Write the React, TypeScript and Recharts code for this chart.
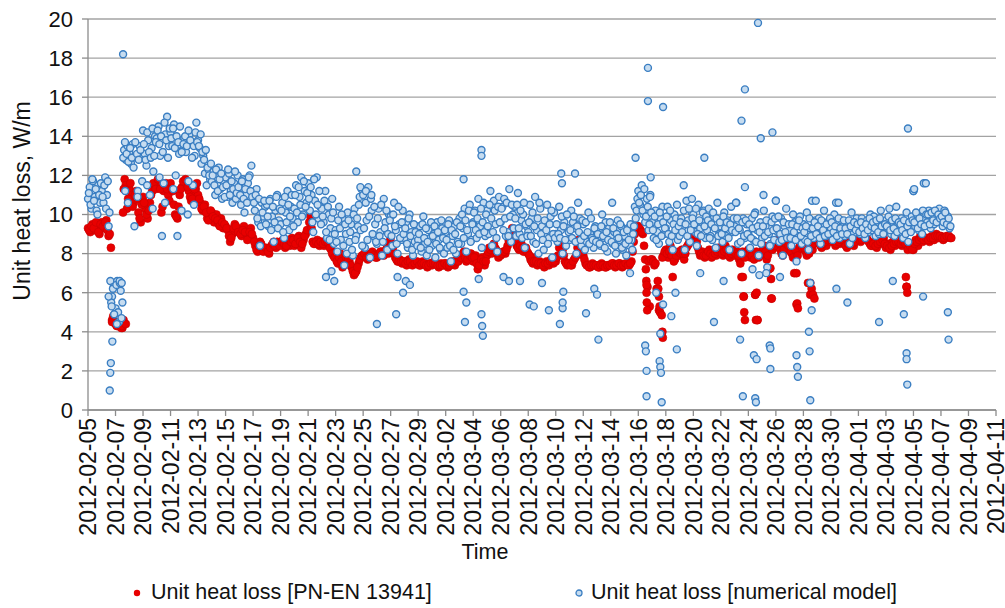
import React from "react";
import { ScatterChart, Scatter, XAxis, YAxis, CartesianGrid } from "recharts";

// x values are days counted from 2012-02-05 00:00
const dayTicks = [
  0, 2, 4, 6, 8, 10, 12, 14, 16, 18, 20, 22, 24, 26, 28, 30, 32, 34, 36, 38,
  40, 42, 44, 46, 48, 50, 52, 54, 56, 58, 60, 62, 64, 66,
];
const dayLabels = [
  "2012-02-05", "2012-02-07", "2012-02-09", "2012-02-11", "2012-02-13",
  "2012-02-15", "2012-02-17", "2012-02-19", "2012-02-21", "2012-02-23",
  "2012-02-25", "2012-02-27", "2012-02-29", "2012-03-02", "2012-03-04",
  "2012-03-06", "2012-03-08", "2012-03-10", "2012-03-12", "2012-03-14",
  "2012-03-16", "2012-03-18", "2012-03-20", "2012-03-22", "2012-03-24",
  "2012-03-26", "2012-03-28", "2012-03-30", "2012-04-01", "2012-04-03",
  "2012-04-05", "2012-04-07", "2012-04-09", "2012-04-11",
];
const valueTicks = [0, 2, 4, 6, 8, 10, 12, 14, 16, 18, 20];

// numerical model, readings every 3 hours starting 00:00 (8 per day)
const modelValues = [
  10.8, 11.4, 10.3, 11.7, 10.9, 10.2, 11.5, 10.6, // 02-05
  11.2, 10.6, 11.9, 11.0, 9.4, 6.6, 5.8, 6.3, // 02-06
  5.2, 6.6, 4.5, 6.1, 5.5, 13.3, 12.8, 13.5, // 02-07
  13.2, 12.6, 13.6, 9.4, 12.9, 11.2, 13.5, 13.0, // 02-08
  14.3, 13.1, 12.5, 13.8, 11.0, 13.4, 12.2, 14.0, // 02-09
  13.9, 14.5, 13.0, 8.9, 11.6, 14.1, 15.0, 13.5, // 02-10
  14.2, 13.5, 14.6, 12.0, 8.9, 13.1, 13.8, 13.3, // 02-11
  13.9, 13.2, 10.0, 14.1, 13.6, 11.5, 13.0, 14.7, // 02-12
  13.8, 13.4, 12.6, 13.0, 12.1, 11.5, 12.3, 11.8, // 02-13
  11.7, 12.2, 11.0, 11.9, 12.4, 11.3, 10.8, 11.6, // 02-14
  11.9, 10.9, 12.1, 11.2, 10.6, 11.6, 10.8, 12.0, // 02-15
  11.4, 10.5, 11.8, 10.1, 11.0, 11.6, 12.0, 12.5, // 02-16
  10.9, 10.2, 11.3, 9.6, 8.4, 10.6, 9.9, 10.4, // 02-17
  10.5, 9.4, 10.8, 9.9, 8.6, 10.2, 11.0, 9.7, // 02-18
  9.5, 10.6, 8.8, 10.1, 11.2, 9.2, 10.4, 9.8, // 02-19
  10.3, 11.5, 9.6, 10.9, 11.9, 10.0, 11.2, 10.6, // 02-20
  11.6, 10.2, 11.0, 9.1, 10.7, 11.9, 9.8, 10.4, // 02-21
  10.3, 9.6, 11.2, 8.8, 10.0, 9.3, 10.8, 8.5, // 02-22
  9.2, 8.1, 10.4, 8.7, 9.8, 7.4, 9.0, 10.1, // 02-23
  8.6, 9.5, 7.9, 10.3, 8.9, 9.4, 10.9, 11.3, // 02-24
  11.0, 8.3, 9.7, 11.4, 7.8, 10.2, 8.9, 9.5, // 02-25
  8.5, 10.3, 9.1, 7.9, 10.8, 9.6, 8.2, 10.0, // 02-26
  9.9, 8.4, 10.6, 9.2, 8.0, 9.5, 8.7, 10.2, // 02-27
  8.8, 9.6, 8.3, 10.0, 9.1, 7.9, 8.6, 9.4, // 02-28
  8.7, 9.4, 8.1, 9.9, 8.5, 7.9, 9.2, 8.8, // 02-29
  8.4, 9.0, 7.8, 9.6, 8.7, 8.2, 9.3, 8.0, // 03-01
  9.1, 8.3, 9.7, 7.6, 8.9, 9.4, 8.0, 8.6, // 03-02
  9.8, 8.5, 9.3, 10.3, 8.1, 9.0, 10.5, 8.7, // 03-03
  9.6, 10.2, 8.8, 10.8, 9.4, 8.3, 10.6, 8.9, // 03-04
  10.2, 9.0, 11.2, 8.4, 10.7, 9.5, 8.1, 10.9, // 03-05
  9.6, 10.4, 10.8, 8.9, 9.1, 11.3, 8.6, 10.0, // 03-06
  10.4, 8.9, 11.1, 9.0, 9.7, 10.0, 8.3, 9.4, // 03-07
  9.1, 10.5, 9.8, 8.6, 10.9, 9.2, 8.0, 10.3, // 03-08
  9.4, 8.2, 9.0, 10.5, 8.8, 9.9, 7.8, 10.1, // 03-09
  9.0, 8.6, 10.4, 9.2, 8.0, 9.6, 8.4, 9.3, // 03-10
  8.7, 10.2, 9.6, 9.3, 8.0, 10.6, 9.8, 8.4, // 03-11
  9.5, 8.2, 8.6, 10.1, 9.0, 8.8, 8.3, 9.4, // 03-12
  8.6, 9.2, 8.4, 10.0, 8.8, 9.6, 8.1, 9.3, // 03-13
  8.9, 8.5, 9.1, 8.0, 9.7, 8.7, 9.4, 8.2, // 03-14
  8.9, 7.9, 9.3, 8.4, 8.7, 9.0, 10.4, 10.2, // 03-15
  11.2, 10.5, 11.5, 10.0, 9.6, 10.8, 9.2, 11.0, // 03-16
  9.6, 8.8, 10.2, 9.1, 8.5, 9.8, 10.4, 9.0, // 03-17
  9.3, 10.4, 8.6, 9.7, 8.2, 10.0, 9.8, 8.7, // 03-18
  8.9, 9.8, 9.4, 8.2, 10.7, 9.7, 8.6, 10.1, // 03-19
  10.0, 9.1, 8.4, 10.5, 9.3, 9.6, 10.2, 8.8, // 03-20
  9.2, 10.3, 8.9, 8.7, 9.9, 8.3, 10.6, 9.0, // 03-21
  9.4, 8.6, 10.1, 8.9, 9.7, 8.2, 10.4, 9.1, // 03-22
  9.4, 10.6, 8.5, 9.2, 8.0, 9.8, 8.8, 9.5, // 03-23
  9.0, 8.3, 9.8, 8.7, 10.1, 9.2, 7.9, 9.6, // 03-24
  8.8, 10.2, 9.4, 7.3, 9.0, 8.5, 9.9, 8.7, // 03-25
  10.7, 9.1, 8.6, 9.8, 7.9, 9.4, 10.3, 8.9, // 03-26
  9.2, 8.4, 10.0, 9.6, 7.6, 8.9, 9.9, 8.5, // 03-27
  9.5, 8.7, 10.1, 8.2, 9.3, 10.7, 8.8, 9.7, // 03-28
  9.0, 9.8, 8.5, 9.4, 10.2, 8.9, 9.6, 9.1, // 03-29
  9.3, 8.7, 10.0, 10.6, 9.2, 8.8, 9.7, 9.4, // 03-30
  8.9, 9.6, 9.2, 8.5, 10.1, 9.0, 9.4, 9.8, // 03-31
  9.5, 9.0, 9.8, 9.3, 8.8, 9.7, 9.1, 10.0, // 04-01
  9.2, 9.9, 8.9, 9.5, 9.0, 10.2, 9.4, 9.1, // 04-02
  9.7, 9.3, 10.3, 9.0, 9.6, 8.9, 10.4, 9.5, // 04-03
  9.1, 9.8, 8.8, 9.5, 10.1, 8.6, 9.3, 9.9, // 04-04
  11.2, 9.4, 10.0, 9.2, 9.7, 9.0, 11.6, 9.8, // 04-05
  9.6, 10.2, 9.3, 9.9, 9.5, 10.1, 9.7, 10.3, // 04-06
  9.8, 9.4, 10.2, 9.6, 9.9, 9.3, // 04-07
];

// numerical model, readings every 3 hours starting 01:30 (8 per day)
const modelValuesHalf = [
  11.1, 10.5, 11.8, 10.7, 11.3, 10.0, 11.0, 11.6, // 02-05
  10.9, 11.5, 10.3, 11.7, 10.1, 5.5, 6.2, 4.9, // 02-06
  6.4, 5.0, 6.5, 4.7, 12.9, 13.7, 13.1, 12.7, // 02-07
  13.4, 12.9, 12.4, 13.7, 13.1, 12.8, 13.3, 11.7, // 02-08
  13.6, 12.8, 14.2, 13.2, 12.9, 14.4, 13.0, 13.7, // 02-09
  14.3, 13.6, 14.0, 13.2, 14.7, 13.8, 12.9, 14.4, // 02-10
  13.9, 14.4, 13.4, 14.0, 13.7, 14.5, 13.2, 13.6, // 02-11
  14.0, 13.5, 14.3, 13.8, 12.9, 13.5, 14.2, 13.7, // 02-12
  13.5, 14.1, 13.2, 12.8, 13.3, 12.4, 12.0, 12.6, // 02-13
  12.0, 11.5, 12.3, 11.2, 11.8, 12.1, 11.4, 10.9, // 02-14
  11.5, 12.3, 11.0, 11.7, 11.3, 12.2, 11.1, 11.4, // 02-15
  11.0, 11.7, 10.8, 11.3, 10.6, 11.9, 11.2, 10.9, // 02-16
  10.6, 11.0, 9.8, 10.8, 9.4, 10.1, 10.7, 9.5, // 02-17
  9.9, 10.7, 9.2, 10.4, 9.6, 10.9, 9.3, 10.3, // 02-18
  10.2, 9.1, 10.9, 9.6, 10.5, 9.9, 11.0, 9.4, // 02-19
  11.0, 10.1, 11.4, 10.5, 9.9, 11.7, 10.4, 11.1, // 02-20
  10.8, 11.4, 9.6, 11.8, 10.0, 10.5, 11.2, 9.5, // 02-21
  9.9, 10.7, 9.1, 10.4, 8.7, 9.8, 10.1, 9.0, // 02-22
  8.6, 9.7, 9.3, 10.0, 8.4, 9.5, 8.0, 9.7, // 02-23
  9.1, 8.2, 10.0, 8.7, 9.8, 10.5, 9.2, 8.4, // 02-24
  9.3, 10.6, 8.7, 9.9, 10.8, 9.0, 10.4, 8.6, // 02-25
  9.8, 8.9, 10.5, 8.6, 9.3, 10.2, 9.0, 9.7, // 02-26
  8.9, 10.0, 9.4, 8.5, 10.4, 8.8, 9.6, 9.0, // 02-27
  9.3, 8.5, 9.8, 8.9, 8.2, 9.5, 9.1, 8.4, // 02-28
  9.0, 8.3, 9.5, 8.8, 9.3, 8.6, 8.2, 9.6, // 02-29
  8.9, 9.4, 8.5, 9.1, 8.3, 9.7, 8.8, 9.2, // 03-01
  8.7, 9.5, 8.4, 9.2, 8.2, 9.0, 9.6, 8.5, // 03-02
  9.4, 10.0, 8.8, 9.7, 9.2, 10.2, 8.6, 9.5, // 03-03
  10.1, 9.2, 9.8, 9.0, 10.3, 9.6, 9.1, 10.0, // 03-04
  9.4, 10.5, 9.8, 9.1, 10.2, 8.8, 10.4, 9.6, // 03-05
  10.3, 9.2, 9.8, 10.6, 8.9, 9.9, 10.5, 9.3, // 03-06
  9.8, 10.5, 9.3, 10.2, 8.8, 10.6, 9.5, 8.9, // 03-07
  9.6, 8.9, 10.1, 9.4, 8.5, 9.8, 10.6, 9.0, // 03-08
  8.7, 9.7, 9.2, 8.5, 9.5, 10.2, 9.0, 8.8, // 03-09
  9.5, 9.0, 8.8, 9.9, 9.4, 8.7, 10.0, 9.1, // 03-10
  9.2, 8.8, 9.9, 8.6, 9.4, 9.1, 8.7, 9.7, // 03-11
  8.9, 9.6, 9.1, 8.5, 9.8, 8.7, 9.3, 8.6, // 03-12
  9.0, 8.5, 9.4, 8.9, 8.3, 9.1, 8.7, 9.6, // 03-13
  8.6, 9.3, 8.4, 9.0, 8.8, 9.5, 8.3, 9.1, // 03-14
  8.5, 9.2, 8.7, 9.5, 8.2, 9.4, 9.8, 10.8, // 03-15
  10.6, 11.0, 10.2, 11.3, 9.9, 10.4, 9.5, 10.1, // 03-16
  9.2, 9.9, 8.7, 9.5, 10.1, 8.9, 9.6, 9.3, // 03-17
  9.9, 9.0, 10.2, 8.9, 9.5, 9.2, 10.5, 9.4, // 03-18
  9.6, 9.1, 10.2, 9.5, 8.9, 10.3, 9.2, 9.8, // 03-19
  9.5, 10.3, 9.0, 9.7, 8.9, 10.1, 9.4, 9.9, // 03-20
  9.7, 8.8, 9.5, 10.1, 9.3, 9.8, 8.9, 9.6, // 03-21
  9.0, 9.9, 9.3, 9.6, 8.8, 9.5, 9.2, 9.8, // 03-22
  9.1, 9.8, 9.3, 8.6, 9.6, 8.9, 9.7, 9.0, // 03-23
  9.5, 8.8, 9.3, 10.0, 8.6, 9.4, 9.1, 8.5, // 03-24
  9.4, 8.9, 9.7, 9.1, 8.4, 9.6, 9.2, 9.8, // 03-25
  9.3, 9.9, 9.0, 8.7, 9.6, 9.1, 8.8, 9.5, // 03-26
  8.8, 9.5, 9.1, 8.7, 9.4, 9.7, 8.9, 9.3, // 03-27
  9.1, 9.4, 8.6, 9.8, 8.9, 9.3, 9.6, 9.0, // 03-28
  9.4, 8.8, 9.7, 9.2, 8.9, 9.5, 9.0, 9.8, // 03-29
  9.6, 9.1, 9.4, 8.9, 9.8, 9.3, 9.0, 9.7, // 03-30
  9.3, 9.0, 9.7, 9.4, 8.8, 9.6, 9.2, 9.5, // 03-31
  9.1, 9.6, 9.3, 9.0, 9.5, 9.2, 9.8, 9.4, // 04-01
  9.6, 9.3, 9.7, 9.1, 9.8, 9.4, 9.0, 9.5, // 04-02
  9.4, 9.9, 9.2, 9.7, 9.3, 9.8, 9.1, 9.6, // 04-03
  9.5, 9.2, 9.7, 9.0, 9.4, 9.6, 9.1, 9.7, // 04-04
  9.6, 10.1, 9.3, 9.8, 9.5, 10.2, 9.4, 10.0, // 04-05
  10.0, 9.5, 10.1, 9.7, 10.2, 9.6, 10.0, 9.8, // 04-06
  9.9, 9.6, 10.1, 9.5, 9.8, 9.4, // 04-07
];

// numerical model, extra readings between the regular ones: [day, W/m]
const modelExtra: [number, number][] = [
  [1.5, 5.8], [1.58, 1.0], [1.62, 1.9], [1.66, 2.4], [1.72, 5.3], [1.77, 3.5],
  [1.9, 4.9], [2.1, 4.4], [2.3, 6.6], [2.45, 6.5], [2.55, 18.2],
  [2.7, 11.2], [2.9, 10.6], [3.6, 10.9], [4.3, 11.5], [4.7, 10.3],
  [5.2, 11.9], [5.6, 10.6], [6.2, 11.3], [6.8, 10.2], [7.3, 11.7], [7.7, 10.5],
  [17.3, 6.8], [17.7, 7.1], [17.9, 6.6],
  [19.5, 12.2], [19.8, 11.4], [20.2, 11.2], [20.6, 11.0], [21.0, 4.4],
  [22.4, 4.9], [22.5, 6.8], [22.9, 6.0], [23.1, 6.6], [23.4, 6.4],
  [27.3, 11.8], [27.3, 6.05], [27.4, 4.5], [27.5, 5.5],
  [28.4, 6.7], [28.6, 13.3], [28.6, 13.0], [28.6, 4.9], [28.65, 4.3], [28.7, 3.8],
  [30.2, 6.8], [30.6, 6.6], [31.4, 6.6], [32.1, 5.4], [32.4, 5.3], [33.0, 6.5],
  [33.5, 5.1], [34.3, 4.4], [34.4, 12.1], [34.45, 11.6], [34.5, 5.2],
  [34.5, 5.5], [34.55, 6.05], [35.4, 12.1],
  [36.2, 4.95], [36.8, 6.2], [37.0, 5.9], [37.1, 3.6], [38.1, 10.6],
  [39.4, 7.0], [39.8, 12.9],
  [40.5, 3.3], [40.55, 3.0], [40.6, 2.0], [40.6, 0.7], [40.7, 17.5],
  [40.7, 15.8], [40.9, 11.9], [40.85, 10.9],
  [41.3, 6.0], [41.6, 3.9], [41.55, 2.5], [41.6, 2.2], [41.65, 1.9],
  [41.7, 0.4], [41.8, 15.5], [41.8, 5.4],
  [42.4, 4.8], [42.7, 6.0], [42.8, 3.1], [43.3, 11.5], [43.9, 10.8],
  [44.5, 7.0], [44.8, 12.9], [45.5, 4.5], [46.2, 6.6],
  [47.1, 10.6], [47.4, 3.6], [47.5, 14.8], [47.6, 0.7], [47.75, 16.4], [47.75, 11.4],
  [48.3, 7.2], [48.4, 2.8], [48.5, 0.6], [48.55, 0.4], [48.6, 2.6], [48.7, 19.8],
  [48.8, 6.9], [48.9, 13.9], [49.1, 11.0], [49.3, 7.0],
  [49.55, 3.3], [49.6, 3.15], [49.6, 2.1], [49.75, 14.2], [50.0, 10.7], [50.3, 6.8],
  [51.5, 2.8], [51.55, 2.2], [51.6, 1.7],
  [52.4, 4.0], [52.45, 3.0], [52.5, 0.5], [52.5, 6.5], [52.6, 5.1], [52.9, 10.7],
  [54.4, 6.2], [54.55, 10.6], [55.2, 5.5], [57.5, 4.5], [58.5, 6.6],
  [59.3, 4.9], [59.5, 2.9], [59.5, 2.6], [59.55, 1.3], [59.6, 14.4],
  [60.0, 11.2], [60.05, 11.3], [60.7, 5.8], [60.9, 11.6],
  [62.5, 5.0], [62.55, 3.6],
];

// PN-EN 13941, readings every 4 hours starting 00:00 (6 per day)
const standardValues = [
  9.3, 9.1, 9.5, 9.2, 9.4, 9.0, // 02-05
  9.6, 9.3, 9.7, 8.9, 8.3, 4.8, // 02-06
  4.4, 4.3, 4.5, 4.2, 11.8, 10.3, // 02-07
  11.3, 11.0, 10.6, 11.2, 10.1, 9.6, // 02-08
  10.9, 10.3, 9.8, 10.6, 11.2, 11.5, // 02-09
  11.4, 11.7, 10.1, 11.2, 11.6, 11.0, // 02-10
  11.6, 11.2, 10.0, 9.8, 11.0, 11.4, // 02-11
  11.5, 11.7, 11.2, 10.7, 11.0, 11.3, // 02-12
  11.0, 10.6, 10.2, 10.5, 9.8, 9.9, // 02-13
  10.1, 9.6, 10.0, 9.5, 9.8, 9.3, // 02-14
  9.4, 9.2, 8.6, 9.0, 9.5, 9.3, // 02-15
  9.2, 8.9, 9.4, 9.0, 8.8, 9.3, // 02-16
  8.8, 8.4, 8.1, 8.6, 8.3, 8.2, // 02-17
  8.2, 8.0, 8.4, 8.6, 8.3, 8.5, // 02-18
  8.5, 8.7, 8.3, 8.6, 8.4, 8.8, // 02-19
  8.4, 8.6, 8.9, 8.3, 8.7, 9.0, // 02-20
  9.2, 9.9, 8.6, 8.5, 8.7, 8.4, // 02-21
  8.6, 8.4, 8.7, 8.5, 8.2, 7.9, // 02-22
  7.8, 7.5, 8.0, 7.3, 7.6, 7.9, // 02-23
  7.6, 7.3, 6.9, 7.1, 7.5, 7.8, // 02-24
  7.9, 8.0, 7.7, 7.8, 8.1, 7.9, // 02-25
  7.8, 8.0, 8.1, 7.9, 8.2, 8.0, // 02-26
  8.8, 8.3, 7.8, 7.6, 7.7, 7.5, // 02-27
  7.6, 7.4, 7.7, 7.5, 7.6, 7.5, // 02-28
  7.5, 7.4, 7.6, 7.5, 7.3, 7.5, // 02-29
  7.4, 7.6, 7.5, 7.3, 7.5, 7.4, // 03-01
  7.5, 7.3, 7.4, 7.6, 7.4, 7.7, // 03-02
  7.7, 7.9, 8.1, 7.6, 7.8, 8.0, // 03-03
  7.6, 7.9, 7.2, 7.5, 7.8, 7.4, // 03-04
  7.9, 8.3, 8.0, 8.5, 8.2, 7.8, // 03-05
  7.9, 8.1, 8.0, 8.4, 8.9, 9.3, // 03-06
  8.7, 8.4, 8.2, 8.5, 8.1, 8.3, // 03-07
  8.0, 7.7, 7.5, 7.8, 7.4, 7.6, // 03-08
  7.5, 7.3, 7.6, 7.4, 7.7, 7.5, // 03-09
  7.6, 7.9, 8.7, 8.2, 7.6, 7.4, // 03-10
  7.5, 7.4, 7.7, 7.9, 8.7, 8.3, // 03-11
  7.9, 7.5, 7.4, 7.3, 7.5, 7.4, // 03-12
  7.4, 7.3, 7.5, 7.4, 7.3, 7.4, // 03-13
  7.4, 7.5, 7.3, 7.4, 7.5, 7.3, // 03-14
  7.4, 7.5, 7.4, 7.6, 8.6, 9.3, // 03-15
  9.4, 9.2, 9.0, 7.7, 6.3, 5.3, // 03-16
  7.7, 7.4, 6.2, 5.1, 3.9, 7.9, // 03-17
  8.2, 7.8, 8.4, 6.8, 7.7, 8.0, // 03-18
  7.9, 8.2, 7.7, 8.3, 8.5, 8.9, // 03-19
  9.2, 8.9, 8.3, 7.9, 8.1, 7.8, // 03-20
  8.0, 8.2, 7.8, 8.1, 7.9, 8.3, // 03-21
  8.1, 7.9, 8.4, 8.0, 7.8, 8.2, // 03-22
  7.9, 8.1, 7.7, 6.8, 5.8, 8.0, // 03-23
  8.2, 7.8, 8.0, 5.9, 4.6, 7.9, // 03-24
  8.1, 8.4, 7.7, 7.2, 5.7, 8.3, // 03-25
  8.5, 8.7, 8.2, 7.9, 8.4, 8.6, // 03-26
  8.3, 8.0, 7.0, 5.4, 8.2, 8.5, // 03-27
  8.4, 8.1, 6.5, 5.9, 8.2, 8.6, // 03-28
  8.8, 8.5, 8.3, 8.7, 8.4, 8.9, // 03-29
  8.6, 8.9, 8.4, 8.7, 8.5, 8.8, // 03-30
  8.5, 8.3, 8.7, 8.6, 8.4, 8.8, // 03-31
  8.9, 8.6, 8.8, 9.0, 8.7, 8.5, // 04-01
  8.4, 8.6, 8.3, 8.7, 8.5, 8.8, // 04-02
  8.3, 8.5, 8.2, 8.6, 8.4, 8.7, // 04-03
  8.6, 8.4, 8.7, 6.3, 8.5, 8.3, // 04-04
  8.2, 8.7, 8.4, 8.9, 8.6, 8.7, // 04-05
  8.8, 8.6, 8.9, 8.7, 9.0, 8.8, // 04-06
  8.9, 8.7, 8.8, 8.9, 8.8, // 04-07
];

// PN-EN 13941, readings every 4 hours starting 02:00 (6 per day)
const standardValuesHalf = [
  9.2, 9.4, 9.3, 9.6, 9.1, 9.5, // 02-05
  9.4, 9.6, 9.2, 9.0, 4.6, 4.5, // 02-06
  4.3, 4.4, 4.2, 4.6, 11.5, 10.8, // 02-07
  11.6, 10.4, 11.0, 10.8, 9.8, 10.5, // 02-08
  10.6, 10.0, 10.2, 11.0, 11.6, 11.3, // 02-09
  11.8, 11.3, 10.4, 11.5, 11.3, 10.7, // 02-10
  11.3, 10.5, 9.9, 10.4, 11.3, 11.7, // 02-11
  11.8, 11.4, 10.9, 10.8, 11.3, 11.6, // 02-12
  10.8, 10.3, 10.4, 10.1, 9.7, 10.2, // 02-13
  9.9, 9.8, 9.7, 9.4, 9.6, 9.5, // 02-14
  9.3, 8.9, 8.8, 9.3, 9.4, 9.1, // 02-15
  9.0, 9.2, 9.1, 8.7, 9.1, 9.0, // 02-16
  8.6, 8.2, 8.4, 8.5, 8.1, 8.3, // 02-17
  8.1, 8.3, 8.5, 8.4, 8.6, 8.4, // 02-18
  8.6, 8.5, 8.4, 8.7, 8.6, 8.7, // 02-19
  8.5, 8.8, 8.6, 8.5, 8.9, 9.2, // 02-20
  9.6, 9.3, 8.5, 8.6, 8.5, 8.6, // 02-21
  8.5, 8.6, 8.6, 8.3, 8.0, 7.8, // 02-22
  7.6, 7.8, 7.6, 7.4, 7.8, 7.7, // 02-23
  7.4, 7.1, 7.0, 7.3, 7.7, 7.9, // 02-24
  8.0, 7.8, 7.9, 8.0, 7.9, 7.8, // 02-25
  7.9, 8.1, 8.0, 8.1, 8.3, 8.6, // 02-26
  8.5, 8.0, 7.7, 7.6, 7.6, 7.6, // 02-27
  7.5, 7.6, 7.6, 7.4, 7.5, 7.6, // 02-28
  7.4, 7.5, 7.5, 7.4, 7.4, 7.5, // 02-29
  7.5, 7.5, 7.4, 7.4, 7.4, 7.5, // 03-01
  7.4, 7.4, 7.5, 7.5, 7.6, 7.6, // 03-02
  7.8, 8.0, 7.8, 7.7, 7.9, 7.8, // 03-03
  7.8, 7.5, 7.4, 7.7, 7.6, 7.6, // 03-04
  8.1, 8.2, 8.3, 8.3, 8.0, 7.9, // 03-05
  8.0, 8.1, 8.2, 8.7, 9.1, 9.0, // 03-06
  8.6, 8.3, 8.4, 8.3, 8.2, 8.1, // 03-07
  7.9, 7.6, 7.6, 7.6, 7.5, 7.5, // 03-08
  7.4, 7.5, 7.5, 7.6, 7.6, 7.6, // 03-09
  7.8, 8.3, 8.5, 7.9, 7.5, 7.5, // 03-10
  7.4, 7.6, 7.8, 8.3, 8.5, 8.1, // 03-11
  7.7, 7.4, 7.3, 7.4, 7.4, 7.4, // 03-12
  7.3, 7.4, 7.4, 7.3, 7.4, 7.4, // 03-13
  7.5, 7.4, 7.4, 7.5, 7.4, 7.4, // 03-14
  7.5, 7.4, 7.5, 8.1, 9.0, 9.4, // 03-15
  9.3, 9.1, 8.4, 6.6, 7.6, 7.7, // 03-16
  7.6, 7.5, 6.6, 5.0, 7.8, 8.1, // 03-17
  8.0, 8.1, 7.9, 7.6, 7.9, 8.1, // 03-18
  8.0, 8.0, 8.0, 8.4, 8.7, 9.1, // 03-19
  9.0, 8.6, 8.1, 8.0, 7.9, 7.9, // 03-20
  8.1, 8.0, 7.9, 8.0, 8.1, 8.2, // 03-21
  8.0, 8.1, 8.2, 7.9, 8.0, 8.1, // 03-22
  8.0, 7.9, 7.5, 8.1, 7.8, 8.1, // 03-23
  8.0, 7.9, 7.7, 8.1, 7.8, 8.0, // 03-24
  8.3, 8.1, 7.9, 8.4, 8.2, 8.4, // 03-25
  8.6, 8.5, 8.0, 8.2, 8.5, 8.4, // 03-26
  8.1, 7.8, 8.2, 7.9, 8.4, 8.3, // 03-27
  8.3, 7.9, 8.0, 8.4, 8.5, 8.7, // 03-28
  8.6, 8.4, 8.5, 8.6, 8.7, 8.8, // 03-29
  8.7, 8.6, 8.5, 8.6, 8.7, 8.7, // 03-30
  8.4, 8.5, 8.6, 8.5, 8.6, 8.9, // 03-31
  8.7, 8.7, 8.9, 8.8, 8.6, 8.4, // 04-01
  8.5, 8.4, 8.5, 8.6, 8.7, 8.5, // 04-02
  8.4, 8.3, 8.4, 8.5, 8.6, 8.6, // 04-03
  8.5, 8.6, 8.5, 8.2, 8.4, 8.2, // 04-04
  8.5, 8.6, 8.7, 8.8, 8.7, 8.8, // 04-05
  8.7, 8.8, 8.8, 8.9, 8.9, 8.9, // 04-06
  8.8, 8.8, 8.9, 8.9, 8.8, // 04-07
];

// PN-EN 13941, extra readings: [day, W/m]
const standardExtra: [number, number][] = [
  [1.75, 4.5], [2.45, 4.3], [2.55, 10.1], [2.6, 11.3], [2.75, 4.4],
  [40.55, 7.2], [40.6, 6.4], [40.6, 6.0], [40.62, 5.5], [40.65, 5.1],
  [41.45, 6.2], [41.5, 5.8], [41.55, 5.3], [41.7, 4.85], [41.75, 4.0], [41.78, 3.7],
  [47.6, 6.8], [47.65, 5.8], [47.7, 5.0], [47.75, 4.6],
  [48.5, 5.9], [48.55, 4.6], [48.6, 6.0], [48.65, 4.6],
  [49.6, 7.25], [49.65, 6.7], [49.7, 5.7],
  [51.5, 7.0], [51.55, 5.45], [51.6, 5.2],
  [52.5, 6.5], [52.6, 6.2], [52.7, 5.9], [52.8, 5.7],
  [59.45, 6.8], [59.5, 6.3], [59.55, 6.0],
];

const toPoints = (values: number[], stepH: number, startH: number) =>
  values.map((v, i) => ({ x: (startH + i * stepH) / 24, y: v }));
const extraPoints = (extra: [number, number][]) => extra.map(([d, v]) => ({ x: d, y: v }));

const modelData = [
  ...toPoints(modelValues, 3, 0),
  ...toPoints(modelValuesHalf, 3, 1.5),
  ...extraPoints(modelExtra),
];
const standardData = [
  ...toPoints(standardValues, 4, 0),
  ...toPoints(standardValuesHalf, 4, 2),
  ...extraPoints(standardExtra),
];

const FONT = "'Liberation Sans', Arial, sans-serif";
const RED = "#e80000";
const BLUE_LINE = "#3a7ec2";
const BLUE_FILL = "#c6dcf0";

const RedDot = (props: any) => (
  <circle cx={props.cx} cy={props.cy} r={4} fill={RED} stroke="#c80000" strokeWidth={0.6} />
);
const BlueDot = (props: any) => (
  <circle cx={props.cx} cy={props.cy} r={3.5} fill={BLUE_FILL} stroke={BLUE_LINE} strokeWidth={1.4} />
);

const DateTick = (props: any) => {
  const { x, y, payload } = props;
  const idx = dayTicks.indexOf(payload.value);
  return (
    <text
      x={x}
      y={y}
      transform={`rotate(-90 ${x} ${y})`}
      textAnchor="end"
      dy="0.36em"
      fontSize={23}
      fontFamily={FONT}
      fill="#111"
    >
      {dayLabels[idx]}
    </text>
  );
};

const legendStyle: React.CSSProperties = {
  position: "absolute",
  top: 580,
  display: "flex",
  alignItems: "center",
  fontFamily: FONT,
  fontSize: 21.5,
  color: "#111",
};

const App: React.FC = () => {
  return (
    <div style={{ position: "absolute", left: 0, top: 0, width: 1005, height: 608, background: "#fff" }}>
      <ScatterChart width={1005} height={608} margin={{ top: 19, right: 9, bottom: 0, left: 0 }}>
        <CartesianGrid vertical={false} stroke="#a3a3a3" strokeWidth={1.3} />
        <XAxis
          type="number"
          dataKey="x"
          domain={[0, 66]}
          ticks={dayTicks}
          interval={0}
          height={198}
          tick={<DateTick />}
          tickSize={6}
          tickMargin={2}
          stroke="#8c8c8c"
          strokeWidth={1.3}
          label={{
            content: (p: any) => (
              <text
                x={p.viewBox.x + p.viewBox.width / 2 - 57}
                y={p.viewBox.y + 149}
                textAnchor="middle"
                fontSize={21.5}
                fontFamily={FONT}
                fill="#111"
              >
                Time
              </text>
            ),
          }}
        />
        <YAxis
          type="number"
          dataKey="y"
          domain={[0, 20]}
          ticks={valueTicks}
          interval={0}
          width={88}
          tickSize={6}
          tickMargin={9}
          stroke="#8c8c8c"
          strokeWidth={1.3}
          tick={{ fontSize: 22, fontFamily: FONT, fill: "#111" }}
          label={{
            content: () => (
              <text
                x={30}
                y={201}
                transform="rotate(-90 30 201)"
                textAnchor="middle"
                fontSize={23}
                fontFamily={FONT}
                fill="#111"
              >
                Unit heat loss, W/m
              </text>
            ),
          }}
        />
        <Scatter
          name="Unit heat loss [PN-EN 13941]"
          data={standardData}
          shape={RedDot}
          isAnimationActive={false}
        />
        <Scatter
          name="Unit heat loss [numerical model]"
          data={modelData}
          shape={BlueDot}
          isAnimationActive={false}
        />
      </ScatterChart>
      <div style={{ ...legendStyle, left: 132 }}>
        <svg width={10} height={10} style={{ marginRight: 9 }}>
          <circle cx={5} cy={5} r={3.2} fill={RED} />
        </svg>
        <span>Unit heat loss [PN-EN 13941]</span>
      </div>
      <div style={{ ...legendStyle, left: 574 }}>
        <svg width={10} height={10} style={{ marginRight: 7 }}>
          <circle cx={5} cy={5} r={3} fill={BLUE_FILL} stroke={BLUE_LINE} strokeWidth={1.3} />
        </svg>
        <span>Unit heat loss [numerical model]</span>
      </div>
    </div>
  );
};

export default App;
